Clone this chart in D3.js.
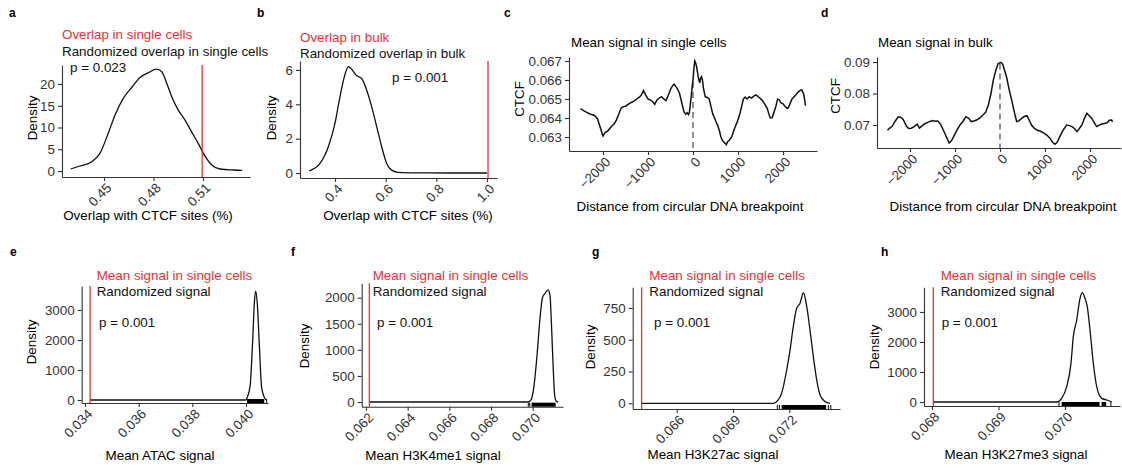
<!DOCTYPE html>
<html>
<head>
<meta charset="UTF-8">
<script src="https://d3js.org/d3.v7.min.js"></script>
<style>
  body { margin: 0; background: #fff; }
  svg { display: block; font-family: "Liberation Sans", Arial, sans-serif; }
</style>
</head>
<body>
<svg id="fig" width="1122" height="472"></svg>
<script>
// ---- data ----
// a: randomized overlap in single cells (density)
const aX = [0.4298, 0.4355, 0.4425, 0.4476, 0.4526, 0.4567, 0.4617, 0.4668, 0.4718, 0.4769, 0.4819, 0.4850, 0.4880, 0.4910, 0.4950, 0.4991, 0.5031, 0.5072, 0.5112, 0.5153, 0.5203, 0.5284, 0.5338];
const aD = [0.46, 1.15, 2.1, 4.1, 8.7, 12.9, 16.7, 19.2, 21.5, 22.6, 23.4, 22.8, 20.2, 17.1, 14.0, 11.7, 9.0, 6.3, 3.4, 1.4, 0.46, 0.23, 0.15];
const aObserved = 0.5095;

// b: randomized overlap in bulk
const bX = [0.2985, 0.3408, 0.3737, 0.4, 0.4197, 0.4368, 0.4526, 0.4658, 0.4829, 0.5053, 0.525, 0.5447, 0.5645, 0.5842, 0.604, 0.6237, 0.65, 0.7224, 0.85, 1.0];
const bD = [0.13, 0.56, 1.53, 2.9, 4.45, 5.6, 6.19, 6.04, 5.7, 5.5, 4.83, 3.86, 2.7, 1.53, 0.56, 0.17, 0.04, 0.01, 0, 0];
const bObserved = 1.004;

// c: mean CTCF signal in single cells around breakpoint
const cX = [-2500, -2440, -2380, -2320, -2250, -2180, -2120, -2060, -2000, -1950, -1900, -1850, -1800, -1750, -1700, -1650, -1600, -1550, -1500, -1450, -1400, -1350, -1300, -1250, -1200, -1150, -1100, -1050, -1000, -950, -900, -850, -800, -750, -700, -650, -600, -550, -500, -460, -420, -380, -350, -300, -250, -200, -160, -130, -100, -80, -50, -20, 0, 20, 40, 60, 80, 100, 130, 150, 170, 190, 210, 230, 270, 320, 360, 400, 440, 470, 510, 550, 590, 620, 660, 700, 740, 770, 800, 860, 900, 950, 1000, 1050, 1090, 1120, 1160, 1200, 1250, 1300, 1350, 1400, 1450, 1500, 1550, 1600, 1650, 1700, 1720, 1760, 1800, 1840, 1880, 1920, 1950, 2000, 2050, 2090, 2120, 2160, 2200, 2240, 2280, 2330, 2380, 2420, 2460, 2500];
const cY = [0.06450, 0.06440, 0.06432, 0.06425, 0.06418, 0.06412, 0.06395, 0.06350, 0.06305, 0.06325, 0.06330, 0.06345, 0.06358, 0.06370, 0.06390, 0.06420, 0.06450, 0.06460, 0.06462, 0.06470, 0.06478, 0.06484, 0.06490, 0.06500, 0.06508, 0.06520, 0.06545, 0.06520, 0.06500, 0.06495, 0.06487, 0.06472, 0.06495, 0.06505, 0.06512, 0.06500, 0.06492, 0.06520, 0.06550, 0.06568, 0.06578, 0.06565, 0.06555, 0.06530, 0.06480, 0.06432, 0.06420, 0.06428, 0.06418, 0.06430, 0.06490, 0.06560, 0.06600, 0.06660, 0.06700, 0.06690, 0.06670, 0.06640, 0.06600, 0.06585, 0.06610, 0.06618, 0.06600, 0.06560, 0.06512, 0.06508, 0.06500, 0.06460, 0.06420, 0.06405, 0.06380, 0.06360, 0.06330, 0.06300, 0.06280, 0.06270, 0.06260, 0.06275, 0.06282, 0.06300, 0.06330, 0.06360, 0.06390, 0.06430, 0.06470, 0.06500, 0.06510, 0.06500, 0.06512, 0.06505, 0.06515, 0.06522, 0.06512, 0.06502, 0.06490, 0.06470, 0.06450, 0.06410, 0.06400, 0.06402, 0.06430, 0.06460, 0.06500, 0.06495, 0.06480, 0.06475, 0.06460, 0.06450, 0.06455, 0.06478, 0.06500, 0.06510, 0.06520, 0.06535, 0.06545, 0.06548, 0.06525, 0.06465];
const cDashTop = 0.0659;

// d: mean CTCF signal in bulk
const dX = [-2500, -2450, -2400, -2330, -2260, -2200, -2150, -2080, -2030, -1970, -1900, -1840, -1790, -1720, -1660, -1580, -1500, -1440, -1380, -1320, -1260, -1190, -1130, -1080, -1030, -960, -890, -820, -760, -700, -640, -580, -520, -450, -380, -320, -260, -200, -150, -90, -40, 20, 60, 110, 150, 200, 260, 320, 370, 420, 480, 540, 600, 650, 700, 760, 820, 900, 960, 1040, 1110, 1170, 1220, 1270, 1330, 1400, 1480, 1540, 1600, 1660, 1710, 1760, 1820, 1880, 1930, 1980, 2040, 2100, 2150, 2210, 2260, 2320, 2380, 2430, 2480, 2500];
const dY = [0.0684, 0.0690, 0.0695, 0.0712, 0.0726, 0.0724, 0.0718, 0.0697, 0.0689, 0.0690, 0.0696, 0.0703, 0.0690, 0.0699, 0.0705, 0.0710, 0.0714, 0.0712, 0.0713, 0.0702, 0.0684, 0.0662, 0.0643, 0.0650, 0.0663, 0.0683, 0.0700, 0.0712, 0.0726, 0.0722, 0.0711, 0.0713, 0.0716, 0.0722, 0.0732, 0.0740, 0.0763, 0.0800, 0.0842, 0.0875, 0.0895, 0.0899, 0.0893, 0.0870, 0.0850, 0.0815, 0.0779, 0.0740, 0.0711, 0.0713, 0.0721, 0.0727, 0.0730, 0.0715, 0.0700, 0.0690, 0.0684, 0.0680, 0.0676, 0.0668, 0.0658, 0.0645, 0.0639, 0.0645, 0.0663, 0.0683, 0.0700, 0.0698, 0.0695, 0.0688, 0.0679, 0.0688, 0.0700, 0.0722, 0.0737, 0.0730, 0.0721, 0.0706, 0.0695, 0.0700, 0.0703, 0.0705, 0.0707, 0.0715, 0.0716, 0.0710];
const dDashTop = 0.0895;

// e: ATAC
const eX = [0.03419, 0.0400, 0.04003, 0.04015, 0.04025, 0.04031, 0.04036, 0.04042, 0.0405, 0.04058, 0.0407, 0.04077];
const eD = [0, 0, 57, 443, 2000, 3222, 3630, 3222, 1780, 443, 57, 0];
const eObserved = 0.03419;
const eRugBands = [[0.04004, 0.04068]];
const eRugTicks = [0.04077];

// f: H3K4me1
const fX = [0.06216, 0.06978, 0.06992, 0.07006, 0.07021, 0.07035, 0.07047, 0.07059, 0.07074, 0.07083, 0.0709, 0.07098, 0.07105, 0.07112, 0.07122];
const fD = [0, 0, 40, 300, 900, 1600, 2000, 2080, 2150, 2050, 1500, 700, 150, 20, 0];
const fObserved = 0.06216;
const fRugBands = [[0.06995, 0.0711]];
const fRugTicks = [0.06979, 0.06986];

// g: H3K27ac
const gX = [0.06413, 0.07115, 0.07141, 0.07159, 0.07186, 0.07204, 0.07221, 0.07239, 0.07257, 0.07275, 0.07293, 0.0731, 0.07328, 0.07346, 0.07364, 0.0739, 0.07417];
const gD = [0, 0, 26, 79, 262, 420, 603, 748, 787, 870, 760, 577, 367, 183, 65, 13, 0];
const gObserved = 0.06413;
const gRugBands = [[0.07159, 0.07396]];
const gRugTicks = [0.07136, 0.07147, 0.07408, 0.07421];

// h: H3K27me3
const hX = [0.06802, 0.069875, 0.06995, 0.070026, 0.07009, 0.070125, 0.070176, 0.070226, 0.07026, 0.0703, 0.070335, 0.070376, 0.070426, 0.070477, 0.070552, 0.070627, 0.070702];
const hD = [0, 0, 122, 511, 1289, 2178, 2733, 3456, 3645, 3456, 3178, 2400, 1289, 511, 122, 67, 0];
const hObserved = 0.06802;
const hRugBands = [[0.06995, 0.07052], [0.07055, 0.07062]];
const hRugTicks = [0.06991, 0.07069];

// tick values
const aTicksX = [0.45, 0.48, 0.51], aTicksY = [0, 5, 10, 15, 20];
const bTicksX = [0.4, 0.6, 0.8, 1.0], bTicksY = [0, 2, 4, 6];
const cTicksX = [-2000, -1000, 0, 1000, 2000], cTicksY = [0.063, 0.064, 0.065, 0.066, 0.067];
const dTicksX = [-2000, -1000, 0, 1000, 2000], dTicksY = [0.07, 0.08, 0.09];
const eTicksX = [0.034, 0.036, 0.038, 0.040], eTicksY = [0, 1000, 2000, 3000];
const fTicksX = [0.062, 0.064, 0.066, 0.068, 0.070], fTicksY = [0, 500, 1000, 1500, 2000];
const gTicksX = [0.066, 0.069, 0.072], gTicksY = [0, 250, 500, 750];
const hTicksX = [0.068, 0.069, 0.070], hTicksY = [0, 1000, 2000, 3000];

// ---- drawing ----
const svg = d3.select("#fig");
const RED = "#ec2f35";
const FS = 13.4;
const minus = f => v => f(v).replace("-", "\u2212");

function frame(p) {
  const g = svg.append("g");
  const x = d3.scaleLinear().domain(p.xDomain).range([p.left, p.right]);
  const y = d3.scaleLinear().domain(p.yDomain).range([p.bottom, p.top]);

  const gx = g.append("g").attr("transform", `translate(0,${p.bottom})`)
    .call(d3.axisBottom(x).tickValues(p.xTicks).tickSize(4).tickSizeOuter(0).tickFormat(p.xFmt));
  gx.selectAll("text")
    .attr("x", 0).attr("y", 0).attr("dy", "0.72em")
    .attr("transform", "translate(1,5) rotate(-45)")
    .attr("text-anchor", "end");

  const gy = g.append("g").attr("transform", `translate(${p.left},0)`)
    .call(d3.axisLeft(y).tickValues(p.yTicks).tickSize(4).tickPadding(3).tickSizeOuter(0).tickFormat(p.yFmt));

  [gx, gy].forEach(a => {
    a.attr("font-family", null).attr("font-size", FS);
    a.select(".domain").attr("stroke", "#333").attr("stroke-width", 1.1);
    a.selectAll(".tick line").attr("stroke", "#333").attr("stroke-width", 1.1);
    a.selectAll(".tick text").attr("fill", "#333");
  });

  g.append("text").attr("x", p.xTitle[0]).attr("y", p.xTitle[1])
    .attr("text-anchor", "middle").attr("font-size", FS).text(p.xLabel);
  g.append("text")
    .attr("transform", `translate(${p.yTitle[0]},${p.yTitle[1]}) rotate(-90)`)
    .attr("text-anchor", "middle").attr("font-size", FS).text(p.yLabel);
  g.append("text").attr("x", p.letter[0]).attr("y", p.letter[1])
    .attr("font-weight", "bold").attr("font-size", 12).text(p.letterText);
  return { g, x, y };
}

function densityPanel(p) {
  const { g, x, y } = frame(p);
  const line = d3.line().x(d => x(d[0])).y(d => y(d[1])).curve(d3.curveMonotoneX);
  g.append("path").datum(d3.zip(p.xs, p.ds))
    .attr("fill", "none").attr("stroke", "#111").attr("stroke-width", 1.3).attr("d", line);
  if (p.rugBands) {
    g.selectAll(".rugband").data(p.rugBands).join("rect")
      .attr("x", d => x(d[0])).attr("width", d => x(d[1]) - x(d[0]))
      .attr("y", p.bottom - 4).attr("height", 4).attr("fill", "#000");
    g.selectAll(".rugtick").data(p.rugTicks).join("line")
      .attr("x1", d => x(d)).attr("x2", d => x(d))
      .attr("y1", p.bottom - 4).attr("y2", p.bottom).attr("stroke", "#000").attr("stroke-width", 1);
  }
  g.append("line").attr("x1", x(p.observed)).attr("x2", x(p.observed))
    .attr("y1", p.top).attr("y2", p.bottom).attr("stroke", RED).attr("stroke-width", 1.3);
  g.append("text").attr("x", p.leg[0]).attr("y", p.leg[1]).attr("fill", RED).attr("font-size", FS).text(p.legRed);
  g.append("text").attr("x", p.leg[0]).attr("y", p.leg[2]).attr("fill", "#111").attr("font-size", FS).text(p.legBlack);
  g.append("text").attr("x", p.pPos[0]).attr("y", p.pPos[1]).attr("fill", "#111").attr("font-size", FS).text(p.pText);
}

function profilePanel(p) {
  const { g, x, y } = frame(p);
  g.append("line").attr("x1", x(0)).attr("x2", x(0))
    .attr("y1", y(p.dashTop)).attr("y2", p.bottom)
    .attr("stroke", "#555").attr("stroke-width", 1.3).attr("stroke-dasharray", "6,4");
  const line = d3.line().x(d => x(d[0])).y(d => y(d[1])).curve(d3.curveLinear);
  g.append("path").datum(d3.zip(p.xs, p.ys))
    .attr("fill", "none").attr("stroke", "#111").attr("stroke-width", 1.5).attr("d", line);
  g.append("text").attr("x", p.titlePos[0]).attr("y", p.titlePos[1]).attr("font-size", FS).text(p.title);
}

const fmt3 = d3.format(".3f"), fmt2 = d3.format(".2f"), fmtInt = d3.format("d");
const xlabOverlap = "Overlap with CTCF sites (%)";
const xlabDist = "Distance from circular DNA breakpoint";

densityPanel({
  left: 62, right: 250, top: 65, bottom: 177,
  xDomain: [0.42455, 0.53848], yDomain: [-1.38, 24.37],
  xTicks: aTicksX, yTicks: aTicksY, xFmt: fmt2, yFmt: fmtInt,
  xs: aX, ds: aD, observed: aObserved,
  xLabel: xlabOverlap, xTitle: [148, 220], yLabel: "Density", yTitle: [37, 118],
  letter: [9, 17], letterText: "a",
  leg: [62, 39, 56], legRed: "Overlap in single cells", legBlack: "Randomized overlap in single cells",
  pPos: [70, 72], pText: "p = 0.023"
});

densityPanel({
  left: 300, right: 497, top: 61, bottom: 178,
  xDomain: [0.2618, 1.0395], yDomain: [-0.29, 6.52],
  xTicks: bTicksX, yTicks: bTicksY, xFmt: d3.format(".1f"), yFmt: fmtInt,
  xs: bX, ds: bD, observed: bObserved,
  xLabel: xlabOverlap, xTitle: [408, 220], yLabel: "Density", yTitle: [276, 118],
  letter: [257, 17], letterText: "b",
  leg: [300, 42, 58], legRed: "Overlap in bulk", legBlack: "Randomized overlap in bulk",
  pPos: [392, 82], pText: "p = 0.001"
});

profilePanel({
  left: 569, right: 817, top: 57, bottom: 151,
  xDomain: [-2755, 2755], yDomain: [0.062263, 0.06721],
  xTicks: cTicksX, yTicks: cTicksY, xFmt: minus(fmtInt), yFmt: fmt3,
  xs: cX, ys: cY, dashTop: cDashTop,
  xLabel: xlabDist, xTitle: [690, 211], yLabel: "CTCF", yTitle: [524, 99],
  letter: [504, 17], letterText: "c",
  title: "Mean signal in single cells", titlePos: [571, 47]
});

profilePanel({
  left: 877, right: 1121, top: 57, bottom: 148,
  xDomain: [-2733, 2689], yDomain: [0.0627, 0.0916],
  xTicks: dTicksX, yTicks: dTicksY, xFmt: minus(fmtInt), yFmt: fmt2,
  xs: dX, ys: dY, dashTop: dDashTop,
  xLabel: xlabDist, xTitle: [1003, 211], yLabel: "CTCF", yTitle: [840, 96],
  letter: [821, 17], letterText: "d",
  title: "Mean signal in bulk", titlePos: [878, 47]
});

const legRedB = "Mean signal in single cells", legBlackB = "Randomized signal";

densityPanel({
  left: 81.7, right: 268, top: 286, bottom: 403,
  xDomain: [0.033877, 0.04082], yDomain: [-100, 3800],
  xTicks: eTicksX, yTicks: eTicksY, xFmt: fmt3, yFmt: fmtInt,
  xs: eX, ds: eD, observed: eObserved, rugBands: eRugBands, rugTicks: eRugTicks,
  xLabel: "Mean ATAC signal", xTitle: [160, 460], yLabel: "Density", yTitle: [36, 342],
  letter: [10, 256], letterText: "e",
  leg: [96.7, 280, 296], legRed: legRedB, legBlack: legBlackB,
  pPos: [99, 327], pText: "p = 0.001"
});

densityPanel({
  left: 361.7, right: 563, top: 283.3, bottom: 406.7,
  xDomain: [0.061794, 0.071455], yDomain: [-90, 2276],
  xTicks: fTicksX, yTicks: fTicksY, xFmt: fmt3, yFmt: fmtInt,
  xs: fX, ds: fD, observed: fObserved, rugBands: fRugBands, rugTicks: fRugTicks,
  xLabel: "Mean H3K4me1 signal", xTitle: [433, 460], yLabel: "Density", yTitle: [309, 346],
  letter: [291, 256], letterText: "f",
  leg: [372.7, 280, 296], legRed: legRedB, legBlack: legBlackB,
  pPos: [377, 327], pText: "p = 0.001"
});

densityPanel({
  left: 632.7, right: 840, top: 287.3, bottom: 409,
  xDomain: [0.063655, 0.0747], yDomain: [-45, 913],
  xTicks: gTicksX, yTicks: gTicksY, xFmt: fmt3, yFmt: fmtInt,
  xs: gX, ds: gD, observed: gObserved, rugBands: gRugBands, rugTicks: gRugTicks,
  xLabel: "Mean H3K27ac signal", xTitle: [713, 459], yLabel: "Density", yTitle: [595, 347],
  letter: [592, 256], letterText: "g",
  leg: [649.3, 280, 296], legRed: legRedB, legBlack: legBlackB,
  pPos: [654, 327], pText: "p = 0.001"
});

densityPanel({
  left: 924, right: 1120, top: 287.3, bottom: 406,
  xDomain: [0.06788, 0.070827], yDomain: [-133, 3823],
  xTicks: hTicksX, yTicks: hTicksY, xFmt: fmt3, yFmt: fmtInt,
  xs: hX, ds: hD, observed: hObserved, rugBands: hRugBands, rugTicks: hRugTicks,
  xLabel: "Mean H3K27me3 signal", xTitle: [1016, 459], yLabel: "Density", yTitle: [879, 347],
  letter: [881, 256], letterText: "h",
  leg: [940.7, 280, 296], legRed: legRedB, legBlack: legBlackB,
  pPos: [941.7, 327], pText: "p = 0.001"
});
</script>
</body>
</html>
